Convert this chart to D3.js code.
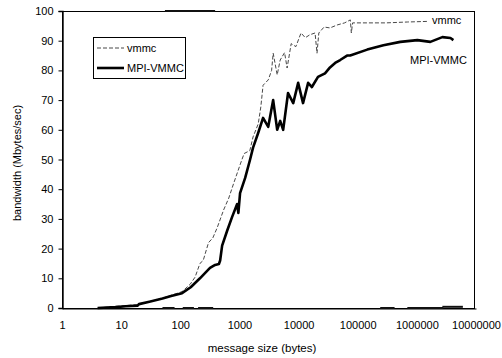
<!DOCTYPE html>
<html>
<head>
<meta charset="utf-8">
<script src="https://cdn.jsdelivr.net/npm/d3@7"></script>
<style>
  html, body { margin: 0; padding: 0; background: #fff; }
  svg { display: block; font-family: Arial, "Liberation Sans", sans-serif; }
</style>
</head>
<body>
<div id="app"></div>
<script>
// message size (bytes) / bandwidth (MB/s)
const mpiSizes = [4, 8, 12, 19, 20, 30, 50, 70, 107, 150, 215, 318, 388, 450, 472, 510, 620, 750, 915, 960, 1025, 1250, 1515, 1700, 2080, 2510, 3070, 3720, 4350, 4890, 5490, 6640, 8120, 9840, 11900, 14500, 16800, 21300, 28000, 34000, 41500, 50500, 66000, 74600, 145000, 272000, 525000, 1020000, 1690000, 2700000, 3700000, 4150000];
const mpiValues = [0, 0.3, 0.6, 0.8, 1.3, 2.1, 3.2, 4.0, 5.0, 7.0, 10.0, 13.5, 14.5, 14.8, 16, 21, 26, 30.6, 35, 32, 38.7, 43.8, 50, 54, 59, 64, 61, 70, 60, 63, 60, 72.4, 69, 75.8, 69, 75.8, 74.4, 77.8, 79, 81, 82.5, 83.5, 85, 85, 87, 88.5, 89.6, 90.2, 89.6, 91.2, 90.9, 90.2];

const vmmcSizes = [4, 20, 50, 107, 147, 178, 215, 244, 300, 355, 420, 540, 660, 800, 1050, 1200, 1500, 1700, 2080, 2300, 2510, 3070, 3500, 3720, 4350, 4890, 5800, 6400, 7500, 9000, 11000, 13000, 15500, 19000, 20500, 22000, 27000, 34000, 45000, 60000, 75000, 78000, 82000, 150000, 300000, 700000, 1500000];
const vmmcValues = [0, 1.2, 3.3, 5.5, 8, 10.4, 15, 16, 22, 23.6, 27, 33, 37, 42, 48.8, 52, 53, 57.6, 62, 67.7, 75, 76.8, 80, 85.8, 78.5, 83.5, 86, 80.8, 89, 88, 92.6, 91, 92, 92.6, 85.8, 92.6, 94.6, 94.3, 95.3, 96, 97, 92.6, 96, 96, 96, 96.3, 96.5];

// stray marks along the frame edges: [from bytes, to bytes, bandwidth]
const edgeMarks = [[55, 388, 100], [50, 80, 0], [110, 170, 0], [200, 360, 0], [240000, 420000, 0], [690000, 2800000, 0], [2700000, 6000000, 0.4]];

const xTicks = [1, 10, 100, 1000, 10000, 100000, 1000000, 10000000];
const yTicks = [0, 10, 20, 30, 40, 50, 60, 70, 80, 90, 100];

const width = 502;
const height = 358;
const margin = { top: 11, right: 26, bottom: 50, left: 62 };

const svg = d3
  .select("#app")
  .append("svg")
  .attr("width", width)
  .attr("height", height)
  .attr("viewBox", [0, 0, width, height]);

const x = d3.scaleLog().domain([1, 1e7]).range([margin.left, width - margin.right]);
const y = d3.scaleLinear().domain([0, 100]).range([height - margin.bottom, margin.top]);

// frame
svg
  .append("rect")
  .attr("x", x(1) + 0.5)
  .attr("y", y(100) + 0.5)
  .attr("width", x(1e7) - x(1) - 2)
  .attr("height", y(0) - y(100))
  .attr("fill", "none")
  .attr("stroke", "#000")
  .attr("stroke-width", 1);

// y axis
svg
  .append("g")
  .attr("transform", `translate(${x(1) + 0.5},0)`)
  .call(d3.axisLeft(y).tickValues(yTicks).tickSize(4).tickPadding(5))
  .call((g) => g.select(".domain").attr("stroke-width", 1.4))
  .call((g) => g.selectAll("text").attr("font-size", 11).attr("fill", "#000").attr("font-family", "Arial, 'Liberation Sans', sans-serif"));

// x axis
svg
  .append("g")
  .attr("transform", `translate(0,${y(0) + 0.5})`)
  .call(d3.axisBottom(x).tickValues(xTicks).tickFormat(d3.format("d")).tickSize(0).tickPadding(13))
  .call((g) => g.select(".domain").attr("stroke-width", 1.2))
  .call((g) => g.selectAll("text").attr("font-size", 11).attr("fill", "#000").attr("font-family", "Arial, 'Liberation Sans', sans-serif"));

// edge marks
svg
  .append("g")
  .selectAll("line")
  .data(edgeMarks)
  .join("line")
  .attr("x1", (d) => x(d[0]))
  .attr("x2", (d) => x(d[1]))
  .attr("y1", (d) => y(d[2]))
  .attr("y2", (d) => y(d[2]))
  .attr("stroke", "#111")
  .attr("stroke-width", 2);

const line = d3
  .line()
  .x((d) => x(d[0]))
  .y((d) => y(d[1]));

const vmmc = d3.zip(vmmcSizes, vmmcValues);
const mpi = d3.zip(mpiSizes, mpiValues);

svg
  .append("path")
  .datum(vmmc)
  .attr("fill", "none")
  .attr("stroke", "#333")
  .attr("stroke-width", 0.9)
  .attr("stroke-dasharray", "4,2")
  .attr("d", line);

svg
  .append("path")
  .datum(mpi)
  .attr("fill", "none")
  .attr("stroke", "#000")
  .attr("stroke-width", 2.6)
  .attr("stroke-linejoin", "round")
  .attr("d", line);

// end labels
svg
  .append("text")
  .attr("x", 432)
  .attr("y", 24)
  .attr("font-size", 11)
  .text("vmmc");

svg
  .append("text")
  .attr("x", 410)
  .attr("y", 64)
  .attr("font-size", 11)
  .text("MPI-VMMC");

// legend
const legend = svg.append("g").attr("transform", "translate(93,37)");
legend
  .append("rect")
  .attr("x", 0.5)
  .attr("y", 0.5)
  .attr("width", 92)
  .attr("height", 41)
  .attr("fill", "#fff")
  .attr("stroke", "#000");

const legendItems = [
  { label: "vmmc", width: 0.9, dash: "4,2", color: "#333" },
  { label: "MPI-VMMC", width: 2.6, dash: null, color: "#000" },
];

legendItems.forEach((d, i) => {
  const yy = 11 + i * 20;
  legend
    .append("line")
    .attr("x1", 4)
    .attr("x2", 31)
    .attr("y1", yy)
    .attr("y2", yy)
    .attr("stroke", d.color)
    .attr("stroke-width", d.width)
    .attr("stroke-dasharray", d.dash);
  legend
    .append("text")
    .attr("x", 34)
    .attr("y", yy + 4)
    .attr("font-size", 11)
    .text(d.label);
});

// axis titles
svg
  .append("text")
  .attr("x", 262)
  .attr("y", 352)
  .attr("text-anchor", "middle")
  .attr("font-size", 11.5)
  .text("message size (bytes)");

svg
  .append("text")
  .attr("transform", "translate(21,163) rotate(-90)")
  .attr("text-anchor", "middle")
  .attr("font-size", 11)
  .text("bandwidth (Mbytes/sec)");
</script>
</body>
</html>
